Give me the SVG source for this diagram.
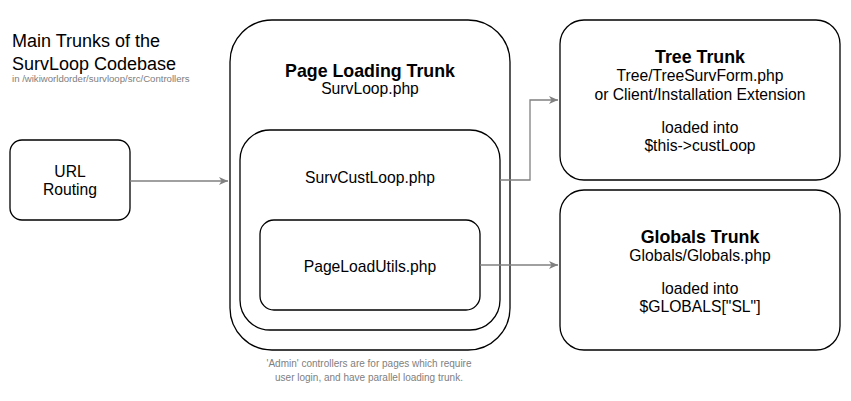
<svg xmlns="http://www.w3.org/2000/svg" width="851" height="401" viewBox="0 0 851 401">
<style>
.box{fill:#fff;stroke:#000;stroke-width:1.3}
text{font-family:"Liberation Sans",Arial,sans-serif;fill:#000}
.t{font-size:15.7px;text-anchor:middle}
.b{font-size:17.8px;font-weight:bold;text-anchor:middle}
.g{font-size:10px;fill:#808080}
.edge{fill:none;stroke:#808080;stroke-width:1.3}
</style>
<defs>
<marker id="ah" markerWidth="10" markerHeight="10" refX="9" refY="5" orient="auto" markerUnits="userSpaceOnUse">
<path d="M0,1 L9,5 L0,9 L2.5,5 Z" fill="#808080"/>
</marker>
</defs>
<rect width="851" height="401" fill="#fff"/>
<g id="title">
<text x="12" y="47" font-size="18">Main Trunks of the</text>
<text x="12" y="70" font-size="18">SurvLoop Codebase</text>
<text class="g" x="12" y="82" style="font-size:9.6px">in /wikiworldorder/survloop/src/Controllers</text>
</g>
<g id="url-routing">
<rect class="box" x="10" y="140" width="120" height="80" rx="12"/>
<text class="t" x="70" y="176.5">URL</text>
<text class="t" x="70" y="195">Routing</text>
</g>
<g id="page-loading">
<rect class="box" x="230" y="20" width="280" height="330" rx="42"/>
<text class="b" x="370" y="77">Page Loading Trunk</text>
<text class="t" x="370" y="94">SurvLoop.php</text>
</g>
<g id="surv-cust-loop">
<rect class="box" x="240" y="130" width="260" height="200" rx="30"/>
<text class="t" x="370" y="183">SurvCustLoop.php</text>
</g>
<g id="page-load-utils">
<rect class="box" x="260" y="220" width="220" height="90" rx="14"/>
<text class="t" x="370" y="272">PageLoadUtils.php</text>
</g>
<g id="tree-trunk">
<rect class="box" x="560" y="20" width="280" height="160" rx="24"/>
<text class="b" x="700" y="62.5">Tree Trunk</text>
<text class="t" x="700" y="81">Tree/TreeSurvForm.php</text>
<text class="t" x="700" y="100">or Client/Installation Extension</text>
<text class="t" x="700" y="132.5">loaded into</text>
<text class="t" x="700" y="151">$this-&gt;custLoop</text>
</g>
<g id="globals-trunk">
<rect class="box" x="560" y="190" width="280" height="160" rx="24"/>
<text class="b" x="700" y="243">Globals Trunk</text>
<text class="t" x="700" y="261">Globals/Globals.php</text>
<text class="t" x="700" y="294">loaded into</text>
<text class="t" x="700" y="312">$GLOBALS["SL"]</text>
</g>
<g id="note">
<text class="g" x="369" y="367" text-anchor="middle">'Admin' controllers are for pages which require</text>
<text class="g" x="369" y="381" text-anchor="middle">user login, and have parallel loading trunk.</text>
</g>
<g id="connectors">
<path class="edge" d="M130,181 L228,181" marker-end="url(#ah)"/>
<path class="edge" d="M500,180 L530,180 L530,100 L558,100" marker-end="url(#ah)"/>
<path class="edge" d="M480,265 L558,265" marker-end="url(#ah)"/>
</g>
</svg>
